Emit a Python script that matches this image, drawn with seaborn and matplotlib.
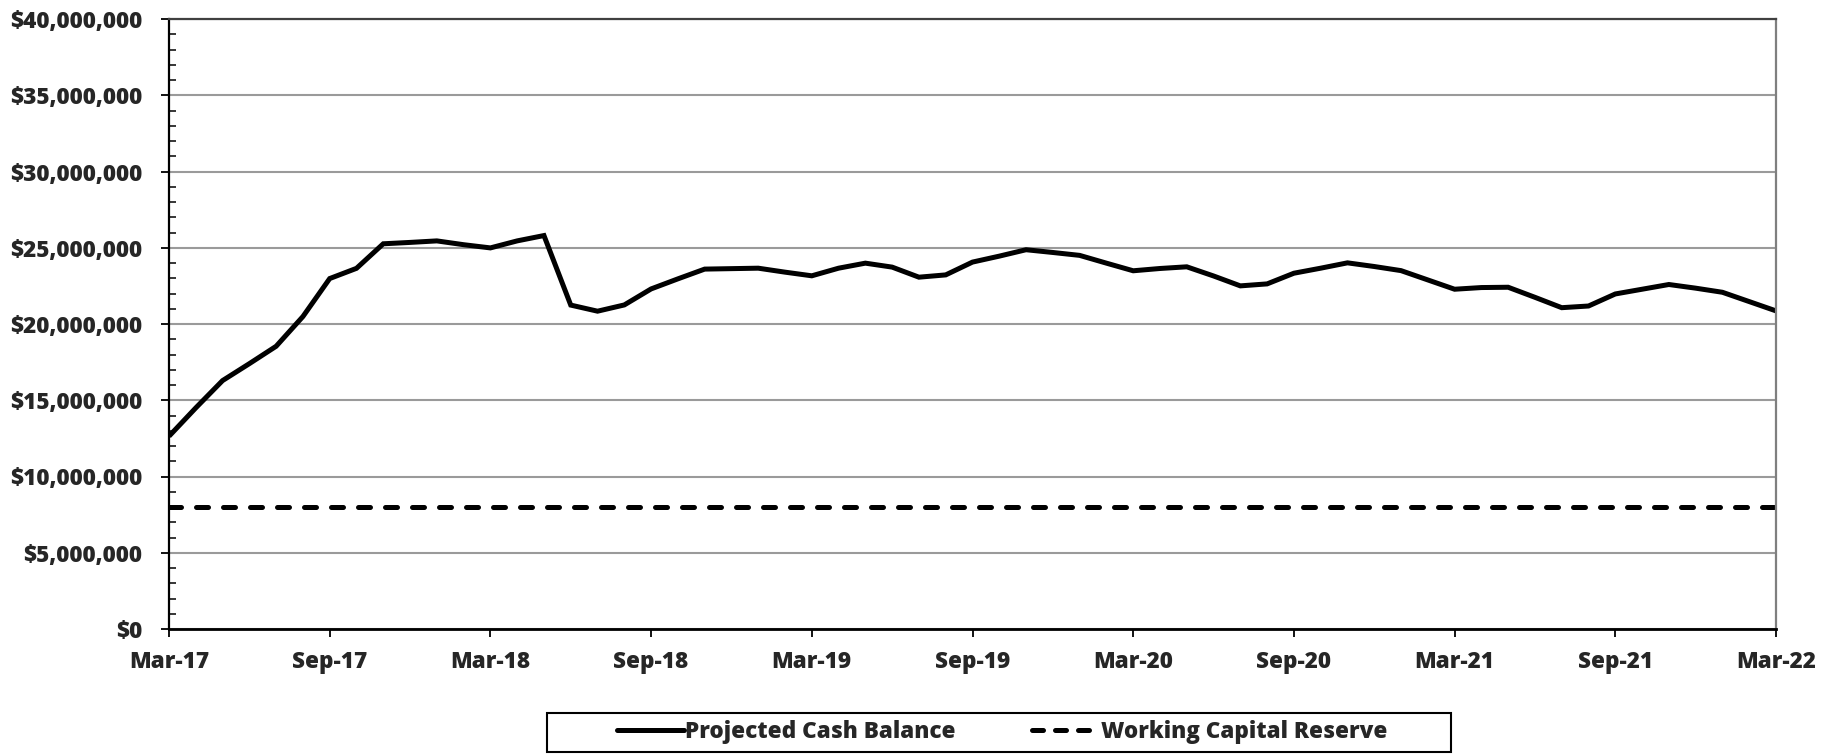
import matplotlib
matplotlib.use("Agg")
import matplotlib.pyplot as plt
from matplotlib.lines import Line2D
from matplotlib.patches import Rectangle
from matplotlib.ticker import FuncFormatter, MultipleLocator
import seaborn as sns
import pandas as pd
import numpy as np

# ---- data (values in $ millions, monthly Mar-17 .. Mar-22) ----
month_index = list(range(61))
cash_balance_m = [
    12.64, 14.50, 16.29, 17.40, 18.54, 20.49, 22.98, 23.65, 25.26, 25.35,
    25.45, 25.20, 24.99, 25.45, 25.80, 21.24, 20.84, 21.25, 22.30, 22.96,
    23.60, 23.63, 23.66, 23.40, 23.16, 23.66, 23.99, 23.73, 23.07, 23.22,
    24.06, 24.45, 24.87, 24.69, 24.50, 23.99, 23.49, 23.64, 23.75, 23.15,
    22.50, 22.63, 23.33, 23.66, 24.01, 23.77, 23.50, 22.89, 22.28, 22.39,
    22.41, 21.75, 21.07, 21.18, 21.97, 22.28, 22.59, 22.35, 22.08, 21.47,
    20.86,
]
reserve_m = [8.0] * 61
tick_positions = [0, 6, 12, 18, 24, 30, 36, 42, 48, 54, 60]
tick_labels = ["Mar-17", "Sep-17", "Mar-18", "Sep-18", "Mar-19", "Sep-19",
               "Mar-20", "Sep-20", "Mar-21", "Sep-21", "Mar-22"]
series_names = ["Projected Cash Balance", "Working Capital Reserve"]

df = pd.DataFrame({
    "month": month_index,
    "cash": np.array(cash_balance_m) * 1e6,
    "reserve": np.array(reserve_m) * 1e6,
})

sns.set_theme(style="white")
plt.rcParams["font.family"] = ["Open Sans", "DejaVu Sans"]
plt.rcParams["font.weight"] = "heavy"

FS = 16.2
W = "heavy"

fig = plt.figure(figsize=(18.43, 7.55), dpi=100)
ax = fig.add_axes([169 / 1843, 1 - 629 / 755, (1776 - 169) / 1843, (629 - 19) / 755])

lw = 3.6
sns.lineplot(data=df, x="month", y="cash", ax=ax, color="black", linewidth=lw,
             solid_capstyle="butt", solid_joinstyle="miter", zorder=4)
sns.lineplot(data=df, x="month", y="reserve", ax=ax, color="black", linewidth=lw,
             dashes=False, zorder=3)
dash_line = ax.get_lines()[-1]
dash_line.set_linestyle((0, (2.4, 3.0)))
dash_line.set_dash_capstyle("round")

ax.set_xlim(0, 60)
ax.set_ylim(0, 40e6)
ax.yaxis.set_major_locator(MultipleLocator(5e6))
ax.yaxis.set_minor_locator(MultipleLocator(1e6))
ax.yaxis.set_major_formatter(FuncFormatter(lambda v, p: f"${v:,.0f}"))
ax.set_xticks(tick_positions)
ax.set_xticklabels(tick_labels)
ax.set_xlabel("")
ax.set_ylabel("")

ax.grid(axis="y", which="major", color="#9a9a9a", linewidth=1.5, zorder=1)
ax.grid(axis="x", visible=False)

ax.tick_params(axis="y", which="major", direction="out", length=5.5, width=1.3,
               color="black", pad=14, labelsize=FS, left=True)
ax.tick_params(axis="y", which="minor", direction="in", length=5, width=1.1,
               color="black", left=True)
ax.tick_params(axis="x", which="major", direction="out", length=6, width=1.3,
               color="black", pad=9, labelsize=FS, bottom=True)
for lab in ax.get_xticklabels() + ax.get_yticklabels():
    lab.set_fontweight(W)

ax.spines["left"].set_color("black")
ax.spines["left"].set_linewidth(1.6)
ax.spines["bottom"].set_color("black")
ax.spines["bottom"].set_linewidth(2.0)
ax.spines["top"].set_color("#404040")
ax.spines["top"].set_linewidth(1.6)
ax.spines["right"].set_color("#7f7f7f")
ax.spines["right"].set_linewidth(1.6)
for s in ax.spines.values():
    s.set_zorder(5)

handles = [
    Line2D([], [], color="black", linewidth=lw, solid_capstyle="round"),
    Line2D([], [], color="black", linewidth=lw, linestyle=(0, (2.2, 2.4)),
           dash_capstyle="round"),
]
leg = fig.legend(handles, series_names, loc="center",
                 bbox_to_anchor=(1002 / 1843, 1 - 732 / 755),
                 ncol=2, frameon=False, handlelength=3.0, handletextpad=0.05,
                 columnspacing=3.4, borderpad=0.2, prop={"size": FS, "weight": W})

# legend frame box (wider than the entries, as in the reference)
fig.patches.append(Rectangle((547 / 1843, 1 - 752 / 755), (1451 - 547) / 1843, (752 - 713) / 755,
                             transform=fig.transFigure, fill=False, edgecolor="black",
                             linewidth=1.5, zorder=0))

fig.savefig("out.png", dpi=100)
